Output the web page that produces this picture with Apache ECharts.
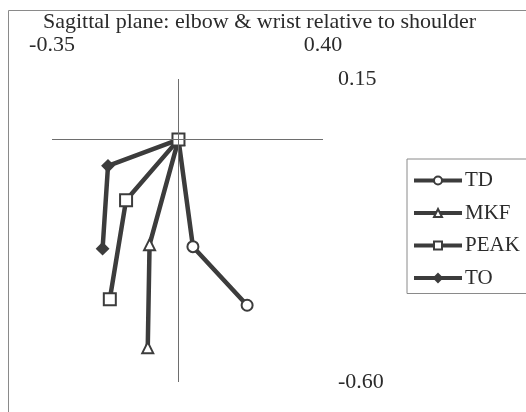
<!DOCTYPE html>
<html>
<head>
<meta charset="utf-8">
<script src="https://cdn.jsdelivr.net/npm/echarts@6/dist/echarts.min.js"></script>
<style>
  html, body { margin: 0; padding: 0; background: #ffffff; }
  #chart { width: 526px; height: 412px; }
</style>
</head>
<body>
<div id="chart"></div>
<script>
// Shoulder (origin), elbow and wrist positions for each phase, in metres
const seriesNames = ['TD', 'MKF', 'PEAK', 'TO'];
const tdPoints   = [[0, 0], [0.04, -0.265], [0.19, -0.41]];
const mkfPoints  = [[0, 0], [-0.08, -0.26], [-0.085, -0.515]];
const peakPoints = [[0, 0], [-0.145, -0.15], [-0.19, -0.395]];
const toPoints   = [[0, 0], [-0.195, -0.065], [-0.21, -0.27]];

// Axis extents and the tick labels that are shown
const xTickLabels = [-0.35, 0.40];
const yTickLabels = [0.15, -0.60];

const INK = '#3c3c3c';
const TEXT = '#2b2b2b';
const SERIF = '"Liberation Serif", "Times New Roman", serif';

const chart = echarts.init(document.getElementById('chart'));

function armSeries(name, points, symbol, size, filled, z) {
  return {
    name: name,
    type: 'line',
    data: points,
    symbol: symbol,
    symbolSize: size,
    showAllSymbol: true,
    z: z,
    lineStyle: { color: INK, width: 4.5 },
    itemStyle: {
      color: filled ? INK : '#ffffff',
      borderColor: INK,
      borderWidth: 2
    },
    emphasis: { disabled: true },
    animation: false
  };
}

chart.setOption({
  backgroundColor: '#ffffff',
  animation: false,
  title: {
    text: 'Sagittal plane: elbow & wrist relative to shoulder',
    left: 38,
    top: 6,
    textStyle: { fontFamily: SERIF, fontSize: 22, fontWeight: 'normal', color: TEXT }
  },
  graphic: [{
    type: 'rect',
    shape: { x: 8.5, y: 10.5, width: 700, height: 600 },
    style: { fill: 'none', stroke: '#8a8a8a', lineWidth: 1 },
    silent: true,
    z: -1
  }],
  legend: {
    orient: 'vertical',
    left: 407,
    top: 159,
    padding: [11, 40, 5, 5],
    itemWidth: 48,
    itemHeight: 10,
    itemGap: 11.5,
    borderColor: '#8a8a8a',
    borderWidth: 1,
    lineStyle: { width: 4 },
    textStyle: { fontFamily: SERIF, fontSize: 21, color: TEXT, lineHeight: 21, padding: [0, 0, 0, -2] },
    data: seriesNames
  },
  grid: { left: 52, right: 203, top: 79, bottom: 30 },
  xAxis: {
    type: 'value',
    position: 'top',
    min: xTickLabels[0],
    max: xTickLabels[1],
    axisLine: { show: false },
    axisTick: { show: false },
    splitLine: { show: false },
    axisLabel: {
      customValues: xTickLabels,
      margin: 23,
      formatter: v => v.toFixed(2),
      fontFamily: SERIF, fontSize: 22, color: TEXT
    }
  },
  yAxis: {
    type: 'value',
    position: 'right',
    min: yTickLabels[1],
    max: yTickLabels[0],
    axisLine: { show: false },
    axisTick: { show: false },
    splitLine: { show: false },
    axisLabel: {
      customValues: yTickLabels,
      margin: 15,
      formatter: v => v.toFixed(2),
      fontFamily: SERIF, fontSize: 22, color: TEXT
    }
  },
  series: [
    {
      // crosshair through the shoulder
      type: 'line',
      data: [],
      z: 1,
      silent: true,
      markLine: {
        silent: true,
        symbol: 'none',
        label: { show: false },
        lineStyle: { color: '#6e6e6e', width: 1, type: 'solid' },
        data: [{ xAxis: 0 }, { yAxis: 0 }],
        animation: false
      }
    },
    armSeries('TD', tdPoints, 'circle', 11, false, 2),
    armSeries('MKF', mkfPoints, 'triangle', 11, false, 2),
    armSeries('TO', toPoints, 'diamond', 11, true, 2),
    armSeries('PEAK', peakPoints, 'rect', 12, false, 3)
  ]
});
</script>
</body>
</html>
